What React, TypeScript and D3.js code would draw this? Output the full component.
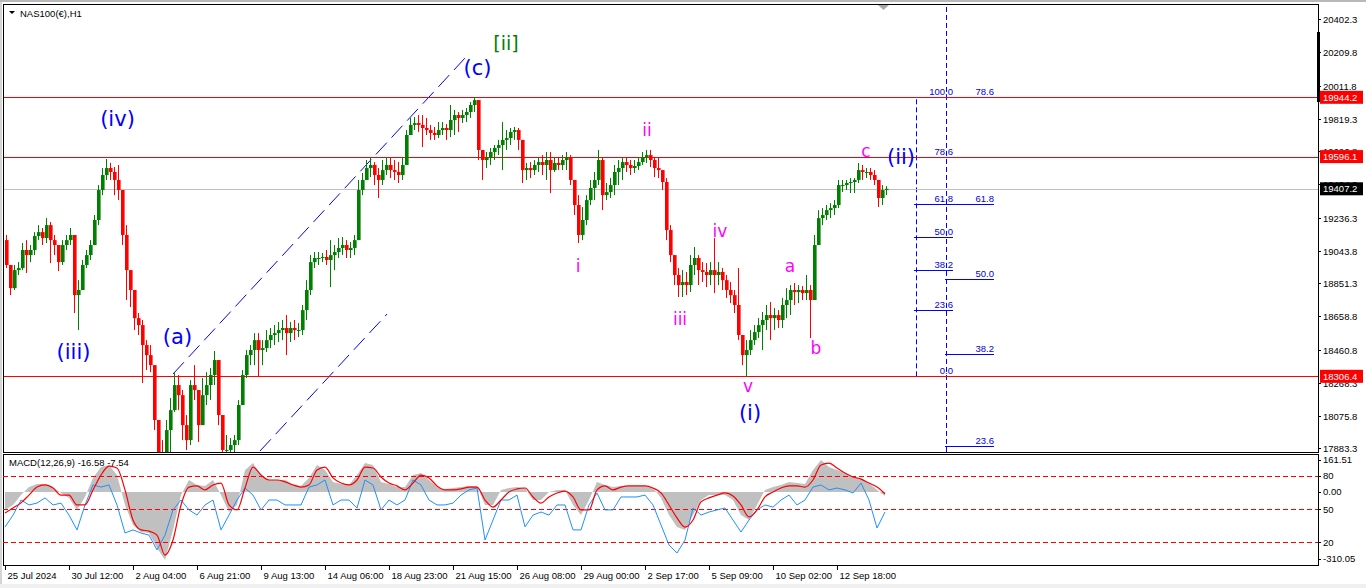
import * as d3 from "d3";
import { useEffect, useRef } from "react";

// NAS100(€) H1, drawn as 4-hour candles (open = previous close)
const barsPerCandle = 4;
const firstOpen = 19106;

const highs = [
  19136, 18930, 18960, 18977, 19089, 19106, 19077, 19153, 19194, 19177,
  19235, 19212, 19136, 19060, 19106, 19136, 19177, 19106, 18871, 18989,
  19048, 19106, 19253, 19429, 19529, 19582, 19559, 19535, 19547, 19400,
  19194, 18930, 18695, 18678, 18637, 18519, 18490, 18284, 18020, 17932,
  18050, 18179, 18325, 18314, 18226, 18079, 18284, 18372, 18196, 18296,
  18331, 18355, 18455, 18372, 18050, 17962, 17944, 17962, 18167, 18343,
  18461, 18490, 18560, 18560, 18519, 18578, 18590, 18607, 18625, 18637,
  18666, 18625, 18637, 18619, 18725, 18871, 19018, 19036, 19036, 19030,
  19048, 19106, 19077, 19118, 19124, 19106, 19095, 19136, 19459, 19500,
  19576, 19588, 19564, 19529, 19576, 19588, 19588, 19576, 19564, 19588,
  19752, 19823, 19829, 19840, 19840, 19823, 19782, 19770, 19799, 19799,
  19787, 19899, 19870, 19858, 19870, 19881, 19917, 19944.2, 19928, 19635,
  19623, 19647, 19664, 19694, 19799, 19752, 19764, 19770, 19764, 19694,
  19559, 19564, 19576, 19588, 19605, 19623, 19623, 19588, 19594, 19605,
  19623, 19605, 19459, 19370, 19300, 19370, 19459, 19506, 19635, 19588,
  19441, 19470, 19547, 19576, 19588, 19594, 19576, 19576, 19594, 19623,
  19635, 19635, 19594, 19588, 19488, 19470, 19194, 19018, 18942, 18930,
  18919, 19018, 19065, 19018, 18977, 18971, 18977, 19118, 18977, 18942,
  18901, 18860, 18813, 18942, 18549, 18519, 18578, 18607, 18648, 18684,
  18725, 18742, 18707, 18695, 18766, 18824, 18842, 18854, 18842, 18836,
  18901, 18842, 19136, 19282, 19294, 19312, 19323, 19341, 19459, 19459,
  19459, 19470, 19470, 19559, 19547, 19529, 19529, 19517, 19459, 19429,
  19423,
];

const lows = [
  18942, 18783, 18813, 18901, 18930, 18913, 18977, 19018, 19106, 19077,
  19089, 18971, 19018, 18924, 18960, 19048, 19077, 18678, 18578, 18813,
  18942, 18989, 19077, 19194, 19370, 19459, 19459, 19370, 19341, 19077,
  18754, 18713, 18578, 18549, 18267, 18343, 18331, 17991, 17815, 17697,
  17727, 17844, 18097, 18108, 17932, 17874, 17903, 18167, 17921, 18020,
  18138, 18167, 18255, 18020, 17815, 17756, 17785, 17815, 17903, 18138,
  18296, 18372, 18372, 18302, 18372, 18449, 18472, 18490, 18508, 18519,
  18431, 18508, 18519, 18537, 18549, 18637, 18783, 18942, 18960, 18977,
  18960, 18830, 18930, 19001, 19018, 19001, 19001, 19018, 19106, 19370,
  19459, 19476, 19429, 19353, 19429, 19488, 19470, 19459, 19441, 19459,
  19547, 19723, 19752, 19741, 19652, 19723, 19694, 19694, 19705, 19723,
  19694, 19711, 19723, 19741, 19793, 19799, 19823, 19858, 19576, 19459,
  19529, 19547, 19576, 19605, 19517, 19635, 19664, 19694, 19635, 19441,
  19459, 19470, 19488, 19506, 19488, 19459, 19382, 19506, 19517, 19517,
  19517, 19429, 19253, 19089, 19106, 19194, 19312, 19341, 19429, 19282,
  19341, 19353, 19370, 19429, 19459, 19506, 19488, 19500, 19517, 19547,
  19559, 19535, 19476, 19470, 19400, 19106, 18977, 18842, 18772, 18772,
  18783, 18801, 18901, 18842, 18860, 18830, 18842, 18795, 18842, 18813,
  18766, 18736, 18678, 18519, 18372, 18306.4, 18431, 18490, 18531, 18461,
  18578, 18519, 18578, 18590, 18590, 18648, 18666, 18725, 18736, 18754,
  18754, 18531, 18754, 19106, 19194, 19224, 19235, 19253, 19294, 19388,
  19400, 19382, 19382, 19441, 19459, 19470, 19459, 19429, 19300, 19312,
  19370,
];

const closes = [
  18960, 18824, 18930, 18942, 19048, 19018, 19048, 19130, 19153, 19118,
  19194, 19106, 19077, 18977, 19077, 19106, 19136, 18783, 18813, 18960,
  19018, 19077, 19224, 19400, 19488, 19529, 19506, 19459, 19400, 19136,
  18930, 18813, 18648, 18607, 18490, 18431, 18372, 18050, 17844, 17785,
  17991, 18108, 18255, 18196, 18020, 17932, 18255, 18226, 18020, 18196,
  18255, 18314, 18402, 18079, 17874, 17874, 17903, 17932, 18138, 18314,
  18431, 18461, 18519, 18461, 18472, 18519, 18549, 18560, 18578, 18590,
  18560, 18590, 18578, 18578, 18695, 18813, 18977, 19001, 19001, 19007,
  18989, 19018, 19036, 19060, 19077, 19048, 19060, 19106, 19400, 19459,
  19529, 19547, 19488, 19459, 19517, 19547, 19517, 19506, 19488, 19547,
  19723, 19782, 19793, 19782, 19764, 19752, 19735, 19723, 19752, 19764,
  19752, 19811, 19840, 19823, 19840, 19858, 19899, 19928, 19635, 19576,
  19588, 19623, 19647, 19664, 19694, 19705, 19741, 19752, 19694, 19517,
  19529, 19517, 19547, 19564, 19547, 19576, 19517, 19559, 19547, 19576,
  19588, 19459, 19312, 19136, 19224, 19341, 19412, 19459, 19576, 19370,
  19388, 19429, 19506, 19529, 19564, 19547, 19529, 19541, 19564, 19594,
  19605, 19576, 19529, 19517, 19447, 19165, 19018, 18901, 18842, 18860,
  18842, 18960, 19001, 18930, 18919, 18901, 18930, 18901, 18919, 18871,
  18813, 18783, 18725, 18549, 18431, 18461, 18519, 18566, 18607, 18637,
  18666, 18648, 18666, 18637, 18725, 18754, 18813, 18801, 18813, 18795,
  18813, 18754, 19077, 19235, 19253, 19282, 19294, 19312, 19429, 19429,
  19441, 19447, 19459, 19517, 19506, 19506, 19488, 19459, 19353, 19400,
  19407.2,
];

// MACD panel, one reading every 8 bars
const macdStep = 8;
const macdHist = [
  -76, -55, -13, 21, 34, 34, 21, -4, -25, -76,
  -21, 60, 106, 115, 72, -55, -140, -170, -174, -238,
  -289, -161, -13, 51, 30, 26, 51, -13, -85, -55,
  93, 123, 72, 51, 51, 51, 34, 26, 60, 115,
  94, 43, 34, 30, 72, 123, 115, 43, 34, 21,
  21, 72, 81, 51, 21, 13, 17, 21, 26, 26,
  -55, -55, 9, 17, 21, 17, -34, -34, 0, 9,
  9, -55, -98, -34, 43, 30, 21, 26, 26, 26,
  26, 17, -25, -98, -149, -161, -98, -34, -13, -13,
  -13, -34, -98, -119, -55, 9, 21, 30, 43, 38,
  34, 94, 136, 106, 94, 81, 64, 60, 38, 9, -16.58,
];
const macdSignal = [
  -89, -68, -46, -13, 21, 30, 17, -13, -13, -55,
  -55, 9, 72, 110, 102, 9, -119, -161, -166, -183,
  -268, -204, -55, 21, 26, 9, 30, 38, -55, -76,
  17, 106, 72, 51, 51, 43, 30, 21, 30, 94,
  106, 60, 38, 30, 51, 106, 102, 64, 38, 26,
  9, 38, 72, 60, 26, 9, 9, 13, 21, 21,
  -34, -64, -34, 0, 13, 17, -21, -47, -21, -4,
  4, -21, -76, -76, 9, 26, 9, 21, 26, 26,
  26, 17, -4, -55, -110, -149, -119, -42, -25, -13,
  -4, -17, -55, -106, -76, -21, 0, 17, 26, 26,
  21, 51, 115, 123, 102, 81, 64, 55, 38, 21, -7.54,
];
const macdBlue = [
  -149, -98, -34, -55, -47, -25, -55, -47, -98, -161,
  -55, 30, 21, 30, -55, -174, -161, -174, -183, -246,
  -183, -76, -34, -76, -98, -55, -34, -161, -98, -34,
  17, -13, -76, -34, -34, -55, -55, -55, 21, 30,
  51, -55, -34, -34, -68, 51, 30, -76, -34, -55,
  -34, 51, 30, -34, -55, -55, -47, -13, 9, 17,
  -204, -119, -34, -34, -13, -148, -98, -85, -98, -55,
  -55, -161, -161, -55, -4, -76, -76, -21, -21, -21,
  -13, -55, -140, -225, -259, -204, -68, -98, -85, -76,
  -68, -119, -170, -119, -76, -55, -64, -34, -13, -55,
  -34, 21, 30, 9, 17, 9, -4, 38, -34, -153, -85,
];
const macdRange = [-310.05, 161.51];
const macdLevelValues = [68, -73.4, -213.6];
const macdLevelLabels = ["80", "50", "20"];

// time axis: one label every 64 bars
const barsPerLabel = 64;
const dateLabels = [
  "25 Jul 2024", "30 Jul 12:00", "2 Aug 04:00", "6 Aug 21:00", "9 Aug 13:00",
  "14 Aug 06:00", "18 Aug 23:00", "21 Aug 15:00", "26 Aug 08:00", "29 Aug 00:00",
  "2 Sep 17:00", "5 Sep 09:00", "10 Sep 02:00", "12 Sep 18:00",
];

const priceRange = [17862.2, 20491.9];
const priceTicks = [
  20402.3, 20209.8, 20011.8, 19819.3, 19626.8, 19434.3, 19236.3,
  19043.8, 18851.3, 18658.8, 18460.8, 18268.3, 18075.8, 17883.3,
];
const redLevels = [19944.2, 19596.1, 18306.4];

// channel lines: [bar, price] anchors
const channelUpper = [[168, 18320], [461, 20181]];
const channelLower = [[255, 17868], [382, 18672]];

// fibonacci tools
const fibA = { low: 18306.4, high: 19944.2, bar: 911, from: 909, to: 948 };
const fibALevels = [0, 23.6, 38.2, 50, 61.8, 78.6, 100];
const fibB = { low: 17017.3, high: 20741.1, bar: 941, from: 940, to: 989 };
const fibBLevels = [23.6, 38.2, 50, 61.8, 78.6];

// wave labels: text, bar, price, degree
const waveLabels: [string, number, number, string][] = [
  ["(iv)", 112.5, 19775, "minor"],
  ["(iii)", 68.5, 18408, "minor"],
  ["(a)", 172.5, 18496, "minor"],
  ["(c)", 472.5, 20078, "minor"],
  ["[ii]", 501, 20221, "major"],
  ["ii", 642, 19717, "minute"],
  ["i", 573, 18918, "minute"],
  ["iii", 675, 18607, "minute"],
  ["iv", 715, 19124, "minute"],
  ["v", 743, 18214, "minute"],
  ["a", 785, 18918, "minute"],
  ["b", 811, 18437, "minute"],
  ["c", 861, 19593, "minute"],
  ["(i)", 745, 18050, "minor"],
  ["(ii)", 896, 19552, "minor"],
];

const W = 1366;
const H = 588;
const AX = "Liberation Sans, Arial, sans-serif";

export default function App() {
  const ref = useRef<SVGSVGElement>(null);

  useEffect(() => {
    if (!ref.current) return;
    const svg = d3.select(ref.current);
    svg.selectAll("*").remove();

    const left = 3;
    const right = 1318;
    const mainTop = 4;
    const mainBottom = 452;
    const macdTop = 454;
    const macdBottom = 565;

    const x = d3.scaleLinear().domain([0, 1313]).range([5, right]);
    const y = d3.scaleLinear().domain(priceRange).range([mainBottom, mainTop]);
    const ym = d3.scaleLinear().domain(macdRange).range([macdBottom, macdTop]);

    svg.append("rect").attr("width", W).attr("height", H).attr("fill", "#fff");
    svg.append("rect").attr("width", 2).attr("height", H).attr("fill", "#d4d4d4");
    svg.append("rect").attr("width", W).attr("height", 2).attr("fill", "#b8b8b8");
    svg.append("rect").attr("y", 584).attr("width", W).attr("height", 4).attr("fill", "#f0f0f0");

    const defs = svg.append("defs");
    defs.append("clipPath").attr("id", "mainClip").append("rect")
      .attr("x", left).attr("y", mainTop).attr("width", right - left).attr("height", mainBottom - mainTop);
    defs.append("clipPath").attr("id", "macdClip").append("rect")
      .attr("x", left).attr("y", macdTop).attr("width", right - left).attr("height", macdBottom - macdTop);

    const main = svg.append("g").attr("clip-path", "url(#mainClip)");

    // channel
    [channelUpper, channelLower].forEach((pts) => {
      main.append("line")
        .attr("x1", x(pts[0][0])).attr("y1", y(pts[0][1]))
        .attr("x2", x(pts[1][0])).attr("y2", y(pts[1][1]))
        .attr("stroke", "#0000ff").attr("stroke-width", 1).attr("stroke-dasharray", "16,7");
    });

    // fibonacci
    const drawFib = (f: typeof fibA, levels: number[]) => {
      main.append("line")
        .attr("x1", x(f.bar) + 0.5).attr("x2", x(f.bar) + 0.5)
        .attr("y1", y(f.low)).attr("y2", y(f.high))
        .attr("stroke", "#0000ff").attr("stroke-dasharray", "5,3");
      levels.forEach((lv) => {
        const py = Math.round(y(f.low + (f.high - f.low) * lv / 100)) + 0.5;
        main.append("line")
          .attr("x1", x(f.from)).attr("x2", x(f.to)).attr("y1", py).attr("y2", py)
          .attr("stroke", "#0000ff").attr("stroke-width", 1.2);
        main.append("text")
          .attr("x", x(f.to)).attr("y", py - 3).attr("text-anchor", "end")
          .attr("font-family", AX).attr("font-size", 9.5).attr("fill", "#0000dd")
          .text(lv.toFixed(1));
      });
    };
    drawFib(fibA, fibALevels);
    drawFib(fibB, fibBLevels);

    // level lines
    const last = closes[closes.length - 1];
    main.append("line")
      .attr("x1", left).attr("x2", right).attr("y1", Math.round(y(last)) + 0.5).attr("y2", Math.round(y(last)) + 0.5)
      .attr("stroke", "#c0c0c0");
    redLevels.forEach((p) => {
      const py = Math.round(y(p)) + 0.5;
      main.append("line").attr("x1", left).attr("x2", right).attr("y1", py).attr("y2", py)
        .attr("stroke", "#ff0000").attr("stroke-width", 1.2);
    });

    // candles
    const candles = closes.map((c, i) => {
      const o = i === 0 ? firstOpen : closes[i - 1];
      return {
        bar: i * barsPerCandle,
        o,
        c,
        h: Math.max(highs[i], o, c),
        l: Math.min(lows[i], o, c),
      };
    });
    const cg = main.append("g");
    candles.forEach((d) => {
      const col = d.c >= d.o ? "#008000" : "#ff0000";
      const x0 = x(d.bar);
      cg.append("line")
        .attr("x1", x0 + 1.5).attr("x2", x0 + 1.5).attr("y1", y(d.h)).attr("y2", y(d.l))
        .attr("stroke", col).attr("stroke-width", 1);
      const top = y(Math.max(d.o, d.c));
      const bot = y(Math.min(d.o, d.c));
      cg.append("rect")
        .attr("x", x0).attr("y", top).attr("width", 3.6).attr("height", Math.max(1, bot - top))
        .attr("fill", col);
    });

    // wave labels
    const waveStyle: Record<string, { color: string; size: number }> = {
      minor: { color: "#0000ff", size: 21 },
      major: { color: "#008000", size: 19 },
      minute: { color: "#ff00ff", size: 17 },
    };
    waveLabels.forEach(([t, bar, price, deg]) => {
      const s = waveStyle[deg];
      main.append("text")
        .attr("x", x(bar)).attr("y", y(price)).attr("text-anchor", "middle")
        .attr("font-family", "DejaVu Sans, sans-serif").attr("font-size", s.size)
        .attr("fill", s.color).text(t);
    });

    // chart shift marker
    svg.append("path").attr("d", "M878,5 L889,5 L883.5,10 Z").attr("fill", "#a8a8a8");

    // title
    svg.append("path").attr("d", "M9,11 L15,11 L12,14 Z").attr("fill", "#000");
    svg.append("text").attr("x", 20).attr("y", 16.5)
      .attr("font-family", AX).attr("font-size", 9.5).attr("fill", "#000").text("NAS100(€),H1");

    // panel frames
    svg.append("rect").attr("x", left + 0.5).attr("y", mainTop + 0.5)
      .attr("width", right - left).attr("height", mainBottom - mainTop)
      .attr("fill", "none").attr("stroke", "#000");
    svg.append("rect").attr("x", left + 0.5).attr("y", macdTop + 0.5)
      .attr("width", right - left).attr("height", macdBottom - macdTop)
      .attr("fill", "none").attr("stroke", "#000");

    // price axis
    const pa = svg.append("g");
    priceTicks.forEach((p) => {
      const py = Math.round(y(p)) + 0.5;
      pa.append("line").attr("x1", right).attr("x2", right + 3).attr("y1", py).attr("y2", py).attr("stroke", "#000");
      pa.append("text").attr("x", right + 5).attr("y", py).attr("dy", "0.35em")
        .attr("font-family", AX).attr("font-size", 9.5).attr("fill", "#000").text(p.toFixed(1));
    });
    pa.append("rect").attr("x", right - 1).attr("y", 32).attr("width", 3).attr("height", 70).attr("fill", "#000");
    const box = (p: number, fill: string) => {
      const py = y(p);
      pa.append("rect").attr("x", right + 2).attr("y", py - 6.5).attr("width", 43).attr("height", 13).attr("fill", fill);
      pa.append("text").attr("x", right + 5).attr("y", py).attr("dy", "0.35em")
        .attr("font-family", AX).attr("font-size", 9.5).attr("fill", "#fff").text(p.toFixed(1));
    };
    redLevels.forEach((p) => box(p, "#ff0000"));
    box(last, "#000");

    // MACD
    const mg = svg.append("g").attr("clip-path", "url(#macdClip)");
    const mx = (_: number, i: number) => x(i * macdStep);
    mg.append("path")
      .datum(macdHist)
      .attr("d", d3.area<number>().x(mx).y0(ym(0)).y1((d) => ym(d)))
      .attr("fill", "#c0c0c0");
    macdLevelValues.forEach((v) => {
      const py = Math.round(ym(v)) + 0.5;
      mg.append("line").attr("x1", left).attr("x2", right).attr("y1", py).attr("y2", py)
        .attr("stroke", "#ff0000").attr("stroke-dasharray", "5,3");
    });
    mg.append("path")
      .datum(macdBlue)
      .attr("d", d3.line<number>().x(mx).y((d) => ym(d)))
      .attr("fill", "none").attr("stroke", "#1e90ff").attr("stroke-width", 1);
    mg.append("path")
      .datum(macdSignal)
      .attr("d", d3.line<number>().x(mx).y((d) => ym(d)).curve(d3.curveMonotoneX))
      .attr("fill", "none").attr("stroke", "#ff0000").attr("stroke-width", 1.2);

    svg.append("text").attr("x", 9).attr("y", 466)
      .attr("font-family", AX).attr("font-size", 9.5).attr("fill", "#000")
      .text(`MACD(12,26,9) ${macdHist[macdHist.length - 1].toFixed(2)} ${macdSignal[macdSignal.length - 1].toFixed(2)}`);

    const macdAxis: [string, number][] = [
      [macdRange[1].toFixed(2), ym(macdRange[1]) + 6],
      ...macdLevelValues.map((v, i) => [macdLevelLabels[i], ym(v)] as [string, number]),
      ["0.00", ym(0)],
      [macdRange[0].toFixed(2), ym(macdRange[0]) - 6],
    ];
    macdAxis.forEach(([t, py]) => {
      svg.append("line").attr("x1", right).attr("x2", right + 3)
        .attr("y1", Math.round(py) + 0.5).attr("y2", Math.round(py) + 0.5).attr("stroke", "#000");
      svg.append("text").attr("x", right + 5).attr("y", py).attr("dy", "0.35em")
        .attr("font-family", AX).attr("font-size", 9.5).attr("fill", "#000").text(t);
    });

    // time axis
    dateLabels.forEach((t, i) => {
      const tx = Math.round(x(i * barsPerLabel)) + 0.5;
      svg.append("line").attr("x1", tx).attr("x2", tx).attr("y1", macdBottom).attr("y2", macdBottom + 5)
        .attr("stroke", "#000");
      svg.append("text").attr("x", tx + 2).attr("y", 579)
        .attr("font-family", AX).attr("font-size", 9.5).attr("fill", "#000").text(t);
    });
  }, []);

  return (
    <svg
      ref={ref}
      width={W}
      height={H}
      style={{ position: "absolute", left: 0, top: 0, display: "block" }}
    />
  );
}
